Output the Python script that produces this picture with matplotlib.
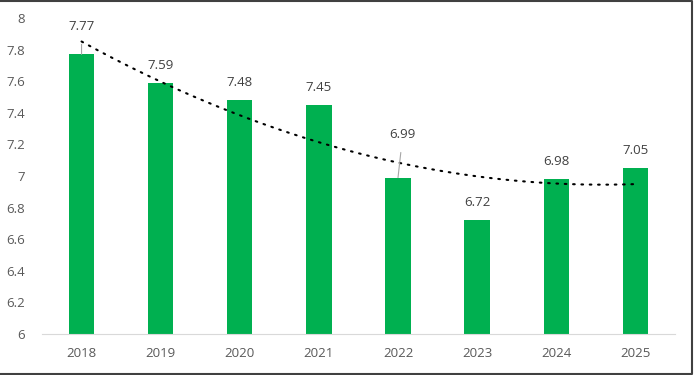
import numpy as np
import matplotlib.pyplot as plt
from matplotlib.lines import Line2D

years = ['2018', '2019', '2020', '2021', '2022', '2023', '2024', '2025']
values = [7.77, 7.59, 7.48, 7.45, 6.99, 6.72, 6.98, 7.05]

plt.rcParams['font.family'] = ['Open Sans', 'DejaVu Sans']

fig = plt.figure(figsize=(6.94, 3.75), dpi=100)
ax = fig.add_axes([0.0605, 0.1093, 0.912, 0.8427])

x = np.arange(len(years))
ax.bar(x, values, width=0.32, color='#00B050')

# polynomial (order 2) trendline like excel
coef = np.polyfit(x, values, 2)
xs = np.linspace(0, len(years) - 1, 200)
ax.plot(xs, np.polyval(coef, xs), color='black', linestyle=(0, (0.8, 3.2)),
        linewidth=1.5, dash_capstyle='round')

ax.set_ylim(6, 8)
ax.set_xlim(-0.5, len(years) - 0.5)
ax.set_yticks(np.arange(6, 8.01, 0.2))
ax.set_yticklabels(['6', '6.2', '6.4', '6.6', '6.8', '7', '7.2', '7.4', '7.6', '7.8', '8'])
ax.set_xticks(x)
ax.set_xticklabels(years)
ax.tick_params(length=0, labelsize=9.5, colors='#595959')
ax.tick_params(axis='y', pad=12)
ax.tick_params(axis='x', pad=9)
for s in ['top', 'right', 'left']:
    ax.spines[s].set_visible(False)
ax.spines['bottom'].set_color('#d9d9d9')

# data labels
for i, v in enumerate(values):
    if i == 0:
        ax.annotate(f'{v:.2f}', xy=(i, v), xytext=(i, 7.945), ha='center', va='center',
                    fontsize=9.5, color='#404040',
                    arrowprops=dict(arrowstyle='-', color='#a6a6a6', lw=0.8, shrinkA=6, shrinkB=0))
    elif i == 4:
        ax.annotate(f'{v:.2f}', xy=(i, v), xytext=(i + 0.06, 7.26), ha='center', va='center',
                    fontsize=9.5, color='#404040',
                    arrowprops=dict(arrowstyle='-', color='#a6a6a6', lw=0.8, shrinkA=6, shrinkB=0))
    else:
        ax.text(i, v + 0.11, f'{v:.2f}', ha='center', va='center', fontsize=9.5, color='#404040')

# frame: top, right, bottom
fig.lines.append(Line2D([0, 0.997, 0.997, 0], [0.997, 0.997, 0.004, 0.004],
                        transform=fig.transFigure, color='#404040', linewidth=1.5))

fig.savefig('out.png', dpi=100)
